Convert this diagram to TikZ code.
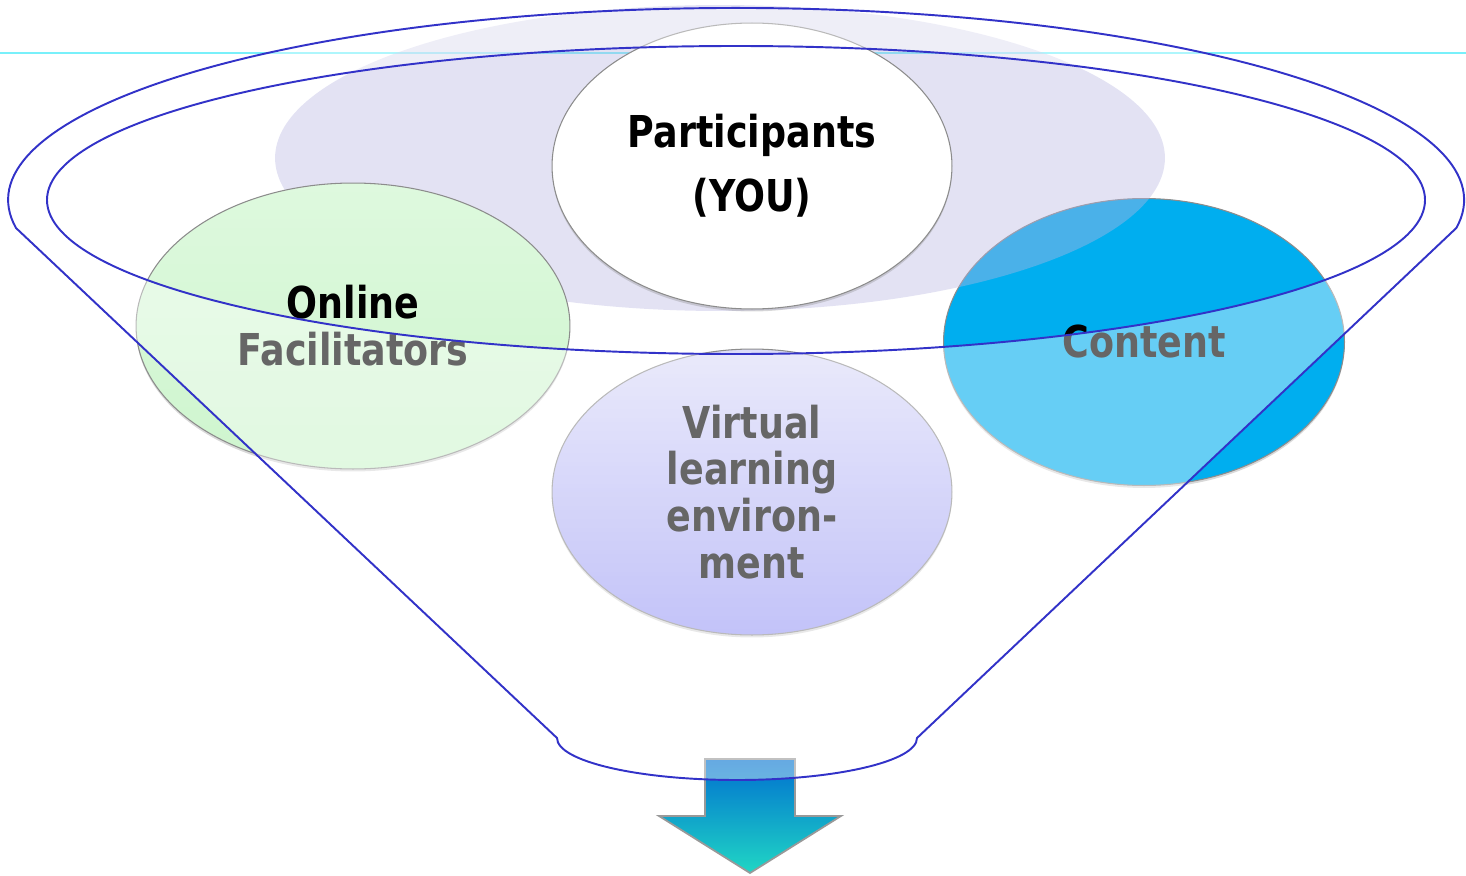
\documentclass[tikz,border=0pt]{standalone}
\usepackage{fontspec}
\setmainfont{DejaVu Sans}[FakeStretch=0.83]
\usetikzlibrary{shapes.geometric,shadows,positioning}
\definecolor{rulecyan}{RGB}{120,240,250}
\definecolor{funnelblue}{RGB}{50,50,200}
\definecolor{contentblue}{RGB}{0,174,239}
\definecolor{bowllilac}{RGB}{185,183,225}
\definecolor{greentop}{RGB}{222,249,222}
\definecolor{greenbot}{RGB}{206,245,206}
\definecolor{vletop}{RGB}{220,220,248}
\definecolor{vlebot}{RGB}{155,155,245}
\definecolor{arrowtop}{RGB}{0,112,208}
\definecolor{arrowmid}{RGB}{14,165,222}
\definecolor{arrowbot}{RGB}{32,214,196}
\newcommand{\blobfont}{\fontsize{25}{26.7}\selectfont\bfseries}
\tikzset{
  blob/.style args={#1,#2}{
  ellipse,
  draw=black!45,
  line width=0.6pt,
  minimum width=#1 cm,
  minimum height=#2 cm,
  inner sep=0pt,
  align=center,
  font=\blobfont,
  drop shadow={shadow xshift=0pt,shadow yshift=-0.05cm,opacity=0.3}
  },
  bowl/.style={ellipse,fill=bowllilac,fill opacity=0.4,minimum width=17.8cm,minimum height=6.12cm},
  rule/.style={draw=rulecyan,line width=0.04cm},
  funnel/.style={draw=funnelblue,line width=1.1pt},
  glass/.style={fill=white,fill opacity=0.4,even odd rule},
  arrowbody/.style={draw=black!40,line width=1pt,top color=arrowtop,middle color=arrowmid,bottom color=arrowbot}
}
\begin{document}
\begin{tikzpicture}[x=0.02cm,y=-0.02cm]
  \useasboundingbox (0,0) rectangle (1466,875);

  \coordinate (ruleW) at (0,53);
  \coordinate (ruleE) at (1466,53);
  \draw [rule] (ruleW) -- (ruleE);

  \node [blob={8.02,5.74},fill=contentblue] (content) at (1144,342) {Content};
  \node [bowl] (bowl) at (720,158) {};
  \node [blob={8.68,5.72},top color=greentop,bottom color=greenbot] (facil) at (353,326) {Online\\Facilitators};
  \node [blob={8,5.72},fill=white] (you) at (752,166) {Participants\\[0.34cm](YOU)};
  \node [blob={8,5.72},top color=vletop,bottom color=vlebot] (vle) at (752,492) {Virtual\\learning\\environ-\\ment};

  % arrow out of the spout
  \draw [arrowbody] (705,759) -- (795,759) -- (795,816) -- (841,816) -- (750,873) -- (659,816) -- (705,816) -- cycle;

  % funnel
  \coordinate (rimW) at (16,228);
  \coordinate (spoutE) at (917,738);
  \coordinate (rimC) at (736,200);
  \path [glass] (rimW) arc [start angle=171.6,end angle=368.4,x radius=728,y radius=192]
        -- (spoutE) arc [start angle=0,end angle=180,x radius=180,y radius=42] -- cycle
        (rimC) ellipse [x radius=689,y radius=154];
  \draw [funnel] (rimW) arc [start angle=171.6,end angle=368.4,x radius=728,y radius=192]
        -- (spoutE) arc [start angle=0,end angle=180,x radius=180,y radius=42] -- cycle;
  \draw [funnel] (rimC) ellipse [x radius=689,y radius=154];
\end{tikzpicture}
\end{document}
